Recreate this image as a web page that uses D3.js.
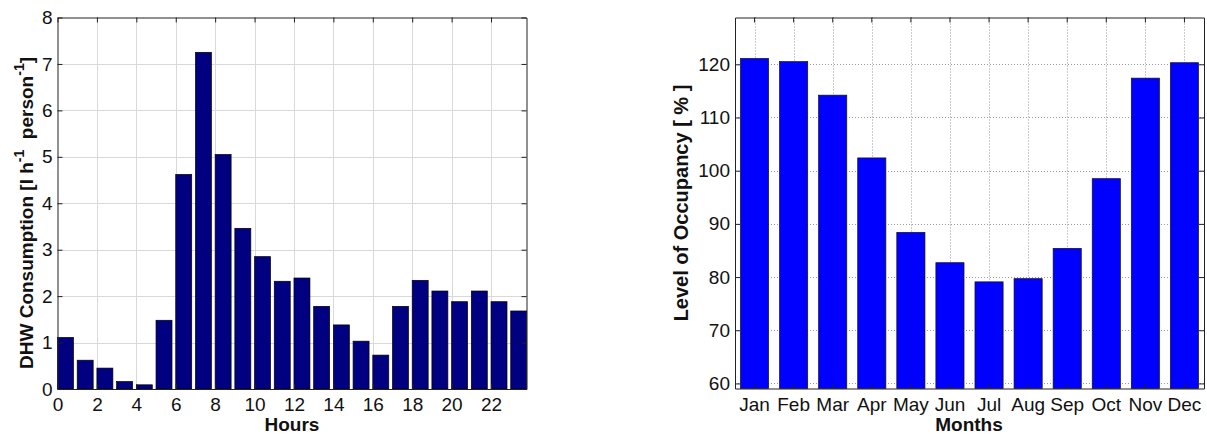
<!DOCTYPE html>
<html>
<head>
<meta charset="utf-8">
<script src="https://cdn.jsdelivr.net/npm/d3@7"></script>
<style>
	body { margin: 0; background: #fff; }
	svg { font-family: "Liberation Sans", Arial, sans-serif; }
	.tick text { font-size: 19px; fill: #111; }
	.domain { stroke: #222; }
	.tick line { stroke: #222; }
	.label { font-size: 19px; font-weight: bold; fill: #111; }
	.ylabel { font-size: 20px; }
	.ylabel.dhw { font-size: 19px; }
</style>
</head>
<body>
<script>
const WIDTH = 1207;
const HEIGHT = 434;

// left chart: hourly DHW consumption
var hours = [0,1,2,3,4,5,6,7,8,9,10,11,12,13,14,15,16,17,18,19,20,21,22,23];
var dhwValues = [1.11,0.62,0.45,0.16,0.09,1.48,4.62,7.25,5.05,3.46,2.85,2.32,
	2.39,1.78,1.38,1.03,0.73,1.78,2.34,2.11,1.88,2.11,1.88,1.68];
var hourTicks = [0,2,4,6,8,10,12,14,16,18,20,22];
var dhwTicks = [0,1,2,3,4,5,6,7,8];

// right chart: monthly occupancy
var months = ['Jan','Feb','Mar','Apr','May','Jun','Jul','Aug','Sep','Oct','Nov','Dec'];
var occupancy = [121.1,120.5,114.2,102.4,88.4,82.7,79.1,79.7,85.4,98.5,117.4,120.3];
var occTicks = [60,70,80,90,100,110,120];

const L = {left: 57.5, right: 526.5, top: 17.5, bottom: 389};
const R = {left: 735, right: 1204, top: 17.5, bottom: 388.5};

var svg;

var createSvg = function(){
	svg = d3.select('body')
		.append('svg')
		.attr('width',WIDTH)
		.attr('height',HEIGHT);
}

var drawFrame = function(g,box,xScale,yScale,xTicks,yTicks){
	// inward ticks on all four sides, like matlab
	g.append('g')
		.attr('transform','translate(0,'+box.bottom+')')
		.call(xTicks(d3.axisBottom(xScale)).tickSizeInner(-5).tickSizeOuter(0).tickPadding(9));
	g.append('g')
		.attr('transform','translate(0,'+box.top+')')
		.call(xTicks(d3.axisTop(xScale)).tickSizeInner(-5).tickSizeOuter(0).tickFormat(''));
	g.append('g')
		.attr('transform','translate('+box.left+',0)')
		.call(yTicks(d3.axisLeft(yScale)).tickSizeInner(-5).tickSizeOuter(0).tickPadding(5));
	g.append('g')
		.attr('transform','translate('+box.right+',0)')
		.call(yTicks(d3.axisRight(yScale)).tickSizeInner(-5).tickSizeOuter(0).tickFormat(''));
}

var drawHours = function(){
	var xScale = d3.scaleLinear().domain([0,23.8]).range([L.left,L.right]);
	var yScale = d3.scaleLinear().domain([0,8]).range([L.bottom,L.top]);
	var g = svg.append('g').classed('hours',true);

	var grid = g.append('g').attr('stroke','#d9d9d9').attr('stroke-width',1);
	grid.selectAll('.gx').data(hourTicks.slice(1)).enter()
		.append('line')
		.attr('x1',function(d){return Math.round(xScale(d))+0.5})
		.attr('x2',function(d){return Math.round(xScale(d))+0.5})
		.attr('y1',L.top).attr('y2',L.bottom);
	grid.selectAll('.gy').data(dhwTicks.slice(1,-1)).enter()
		.append('line')
		.attr('y1',function(d){return Math.round(yScale(d))+0.5})
		.attr('y2',function(d){return Math.round(yScale(d))+0.5})
		.attr('x1',L.left).attr('x2',L.right);

	g.append('g')
		.selectAll('rect')
		.data(hours)
		.enter()
		.append('rect')
		.attr('x',function(d){return xScale(d)})
		.attr('width',function(d){return xScale(d+0.81)-xScale(d)})
		.attr('y',function(d,i){return yScale(dhwValues[i])})
		.attr('height',function(d,i){return yScale(0)-yScale(dhwValues[i])})
		.attr('fill','#000080')
		.attr('stroke','#000')
		.attr('stroke-width',0.7);

	drawFrame(g,L,xScale,yScale,
		function(a){return a.tickValues(hourTicks)},
		function(a){return a.tickValues(dhwTicks)});

	g.append('text').classed('label',true)
		.attr('x',292).attr('y',431)
		.attr('text-anchor','middle')
		.text('Hours');

	var yl = g.append('text').classed('label ylabel dhw',true)
		.attr('transform','translate(33,213) rotate(-90)')
		.attr('text-anchor','middle')
		.attr('xml:space','preserve');
	yl.append('tspan').text('DHW Consumption [l h');
	yl.append('tspan').attr('dy',-9).attr('font-size',14).text('-1');
	yl.append('tspan').attr('dy',9).text('  person');
	yl.append('tspan').attr('dy',-9).attr('font-size',14).text('-1');
	yl.append('tspan').attr('dy',9).text(']');
}

var drawMonths = function(){
	var xScale = d3.scaleBand().domain(months).range([R.left,R.right]).paddingInner(0.28).paddingOuter(0.14);
	var yScale = d3.scaleLinear().domain([59.05,128.8]).range([R.bottom,R.top]);
	var g = svg.append('g').classed('months',true);

	var grid = g.append('g').attr('stroke','#999').attr('stroke-width',1).attr('stroke-dasharray','1,2');
	grid.selectAll('.gx').data(months).enter()
		.append('line')
		.attr('x1',function(d){return Math.round(xScale(d)+xScale.bandwidth()/2)+0.5})
		.attr('x2',function(d){return Math.round(xScale(d)+xScale.bandwidth()/2)+0.5})
		.attr('y1',R.top).attr('y2',R.bottom);
	grid.selectAll('.gy').data(occTicks).enter()
		.append('line')
		.attr('y1',function(d){return Math.round(yScale(d))+0.5})
		.attr('y2',function(d){return Math.round(yScale(d))+0.5})
		.attr('x1',R.left).attr('x2',R.right);

	g.append('g')
		.selectAll('rect')
		.data(months)
		.enter()
		.append('rect')
		.attr('x',function(d){return xScale(d)})
		.attr('width',xScale.bandwidth())
		.attr('y',function(d,i){return yScale(occupancy[i])})
		.attr('height',function(d,i){return yScale.range()[0]-yScale(occupancy[i])})
		.attr('fill','#0000ff')
		.attr('stroke','#111')
		.attr('stroke-width',0.7);

	drawFrame(g,R,xScale,yScale,
		function(a){return a},
		function(a){return a.tickValues(occTicks)});

	g.append('text').classed('label',true)
		.attr('x',969).attr('y',431)
		.attr('text-anchor','middle')
		.text('Months');

	g.append('text').classed('label ylabel',true)
		.attr('transform','translate(688,203) rotate(-90)')
		.attr('text-anchor','middle')
		.text('Level of Occupancy [ % ]');
}

window.onload = function(){
	createSvg();
	drawHours();
	drawMonths();
}
</script>
</body>
</html>
